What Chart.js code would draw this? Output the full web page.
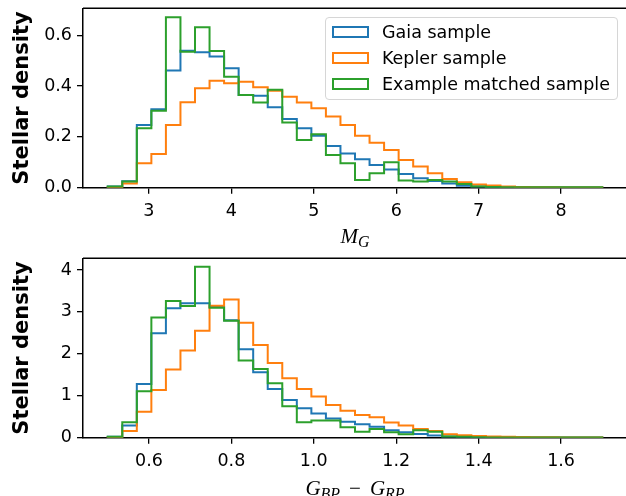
<!DOCTYPE html>
<html>
<head>
<meta charset="utf-8">
<script src="https://cdn.jsdelivr.net/npm/chart.js@4.4.1/dist/chart.umd.min.js"></script>
<style>
  body { margin: 0; width: 626px; height: 496px; overflow: hidden; background: #fff; position: relative; font-family: 'DejaVu Sans', sans-serif; }
  canvas { position: absolute; left: 0; }
  #magChart { top: 0; }
  #colorChart { top: 250px; }
  .xlab { position: absolute; left: 83px; width: 544px; text-align: center; font-family: 'Liberation Serif', serif; font-style: italic; font-size: 21px; line-height: 21px; color: #000; white-space: nowrap; }
  .xlab sub { font-size: 0.76em; vertical-align: -0.25em; line-height: 0; }
  .xlab .op { font-style: normal; padding: 0 9px; }
  #legend { position: absolute; left: 325px; top: 17px; width: 291px; height: 81px; border: 1px solid #d6d6d6; border-radius: 4px; background: rgba(255,255,255,0.8); }
  .row { position: absolute; left: 0; height: 20px; font-size: 17.5px; line-height: 20px; color: #000; white-space: nowrap; }
  .patch { position: absolute; left: 6px; top: 4px; width: 33px; height: 8px; border: 2px solid; }
  .row span.txt { position: absolute; left: 56px; top: 0; }
</style>
</head>
<body>
<canvas id="magChart" width="640" height="250"></canvas>
<canvas id="colorChart" width="640" height="250"></canvas>
<div class="xlab" style="top:226px">M<sub>G</sub></div>
<div class="xlab" style="top:478px">G<sub>BP</sub><span class="op">−</span>G<sub>RP</sub></div>
<div id="legend"></div>
<script>
const seriesNames = ['Gaia sample', 'Kepler sample', 'Example matched sample'];
const seriesColors = ['#1f77b4', '#ff7f0e', '#2ca02c'];

// M_G histogram: 34 bins between 2.5 and 8.5
const magRange = [2.5, 8.5];
const magBinCount = 34;
const magTicks = [3, 4, 5, 6, 7, 8];
const magDensityTicks = [0, 0.2, 0.4, 0.6];
const gaiaMag = [0.005, 0.025, 0.247, 0.309, 0.461, 0.539, 0.533, 0.516, 0.470, 0.365, 0.362, 0.317,
  0.270, 0.234, 0.204, 0.164, 0.135, 0.112, 0.089, 0.072, 0.054, 0.037, 0.026, 0.017,
  0.008, 0.005, 0.003, 0.002, 0.002, 0.001, 0.001, 0.001, 0.001, 0.001];
const keplerMag = [0.003, 0.017, 0.096, 0.133, 0.247, 0.336, 0.391, 0.421, 0.411, 0.417, 0.395, 0.382,
  0.358, 0.335, 0.313, 0.280, 0.247, 0.204, 0.177, 0.148, 0.109, 0.083, 0.057, 0.034,
  0.021, 0.013, 0.009, 0.005, 0.003, 0.002, 0.002, 0.001, 0.001, 0.001];
const matchedMag = [0.005, 0.024, 0.234, 0.303, 0.671, 0.535, 0.631, 0.538, 0.437, 0.365, 0.335, 0.385,
  0.257, 0.188, 0.210, 0.129, 0.096, 0.030, 0.057, 0.100, 0.028, 0.024, 0.030, 0.024,
  0.015, 0.005, 0.003, 0.002, 0.002, 0.002, 0.002, 0.002, 0.002, 0.002];

// colour histogram: 34 bins between 0.5 and 1.7
const colorRange = [0.5, 1.7];
const colorBinCount = 34;
const colorTicks = [0.6, 0.8, 1.0, 1.2, 1.4, 1.6];
const colorDensityTicks = [0, 1, 2, 3, 4];
const gaiaColor = [0.02, 0.29, 1.28, 2.49, 3.09, 3.21, 3.21, 3.12, 2.80, 2.11, 1.56, 1.16,
  0.90, 0.70, 0.58, 0.46, 0.38, 0.32, 0.26, 0.18, 0.13, 0.09, 0.05, 0.03,
  0.02, 0.01, 0.01, 0.005, 0.004, 0.003, 0.003, 0.002, 0.002, 0.002];
const keplerColor = [0.01, 0.16, 0.62, 1.14, 1.63, 2.08, 2.55, 3.15, 3.30, 2.74, 2.21, 1.78,
  1.42, 1.16, 0.98, 0.78, 0.64, 0.54, 0.49, 0.36, 0.29, 0.21, 0.16, 0.08,
  0.06, 0.04, 0.03, 0.02, 0.015, 0.01, 0.01, 0.005, 0.005, 0.005];
const matchedColor = [0.02, 0.37, 1.11, 2.87, 3.26, 3.14, 4.08, 3.10, 2.79, 1.84, 1.64, 1.30,
  0.75, 0.37, 0.41, 0.41, 0.25, 0.14, 0.21, 0.13, 0.08, 0.18, 0.14, 0.03,
  0.02, 0.01, 0.005, 0.005, 0.005, 0.005, 0.005, 0.005, 0.005, 0.005];

const font = { family: 'DejaVu Sans', size: 17.5 };

// outline of a step histogram, like histtype='step'
const stepPoints = (range, n, values) => {
  const w = (range[1] - range[0]) / n;
  const pts = [{ x: range[0], y: 0 }];
  values.forEach((v, i) => pts.push({ x: range[0] + i * w, y: v }));
  pts.push({ x: range[1], y: 0 });
  return pts;
};

const noPadding = (s) => {
  s.paddingTop = 0;
  s.paddingBottom = 0;
  s.paddingLeft = 0;
  s.paddingRight = 0;
};

const boxPlugin = {
  id: 'box',
  afterDraw(chart) {
    const { ctx, chartArea: a } = chart;
    ctx.save();
    ctx.strokeStyle = '#000';
    ctx.lineWidth = 1.5;
    ctx.beginPath();
    ctx.moveTo(a.left, a.top);
    ctx.lineTo(a.right, a.top);
    ctx.lineTo(a.right, a.bottom);
    ctx.stroke();
    ctx.restore();
  }
};

const initStepChart = (id, range, n, series, xTicks, yTicks, yMax, fmtX, fmtY) => {
  const pad = (range[1] - range[0]) * 0.05;
  const datasets = series.map((values, i) => ({
    label: seriesNames[i],
    data: stepPoints(range, n, values),
    borderColor: seriesColors[i],
    borderWidth: 2,
    pointRadius: 0,
    fill: false,
    stepped: 'before',
    order: 2 - i,
  }));
  return new Chart(document.getElementById(id), {
    type: 'line',
    data: { datasets },
    options: {
      responsive: false,
      animation: false,
      devicePixelRatio: 1,
      layout: { padding: { top: 8.3, right: 13, left: 0, bottom: 0 } },
      plugins: { legend: { display: false }, tooltip: { enabled: false } },
      scales: {
        x: {
          type: 'linear',
          min: range[0] - pad,
          max: range[1] + pad,
          afterFit: (s) => { s.height = 62.3; noPadding(s); },
          afterBuildTicks: (s) => { s.ticks = xTicks.map((v) => ({ value: v })); },
          ticks: { font, color: '#000', padding: 7, maxRotation: 0, autoSkip: false, callback: fmtX },
          grid: { drawOnChartArea: false, drawTicks: true, tickLength: 6, color: '#000', lineWidth: 1.3 },
          border: { display: true, color: '#000', width: 1.5 },
        },
        y: {
          min: 0,
          max: yMax,
          afterFit: (s) => { s.width = 83; noPadding(s); },
          afterBuildTicks: (s) => { s.ticks = yTicks.map((v) => ({ value: v })); },
          ticks: { font, color: '#000', padding: 5, callback: fmtY },
          grid: { drawOnChartArea: false, drawTicks: true, tickLength: 6, color: '#000', lineWidth: 1.3 },
          border: { display: true, color: '#000', width: 1.5 },
          title: { display: true, text: 'Stellar density', color: '#000', font: { family: 'DejaVu Sans', size: 21, weight: 'bold' }, padding: { top: 10, bottom: 0 } },
        },
      },
    },
    plugins: [boxPlugin],
  });
};

initStepChart('magChart', magRange, magBinCount, [gaiaMag, keplerMag, matchedMag],
  magTicks, magDensityTicks, 0.706, (v) => String(v), (v) => v.toFixed(1));
initStepChart('colorChart', colorRange, colorBinCount, [gaiaColor, keplerColor, matchedColor],
  colorTicks, colorDensityTicks, 4.28, (v) => v.toFixed(1), (v) => String(v));

const legend = document.getElementById('legend');
const rowTops = [4, 30, 56];
seriesNames.forEach((name, i) => {
  const row = document.createElement('div');
  row.className = 'row';
  row.style.top = rowTops[i] + 'px';
  row.innerHTML = `<span class="patch" style="border-color:${seriesColors[i]}"></span><span class="txt">${name}</span>`;
  legend.appendChild(row);
});
</script>
</body>
</html>
